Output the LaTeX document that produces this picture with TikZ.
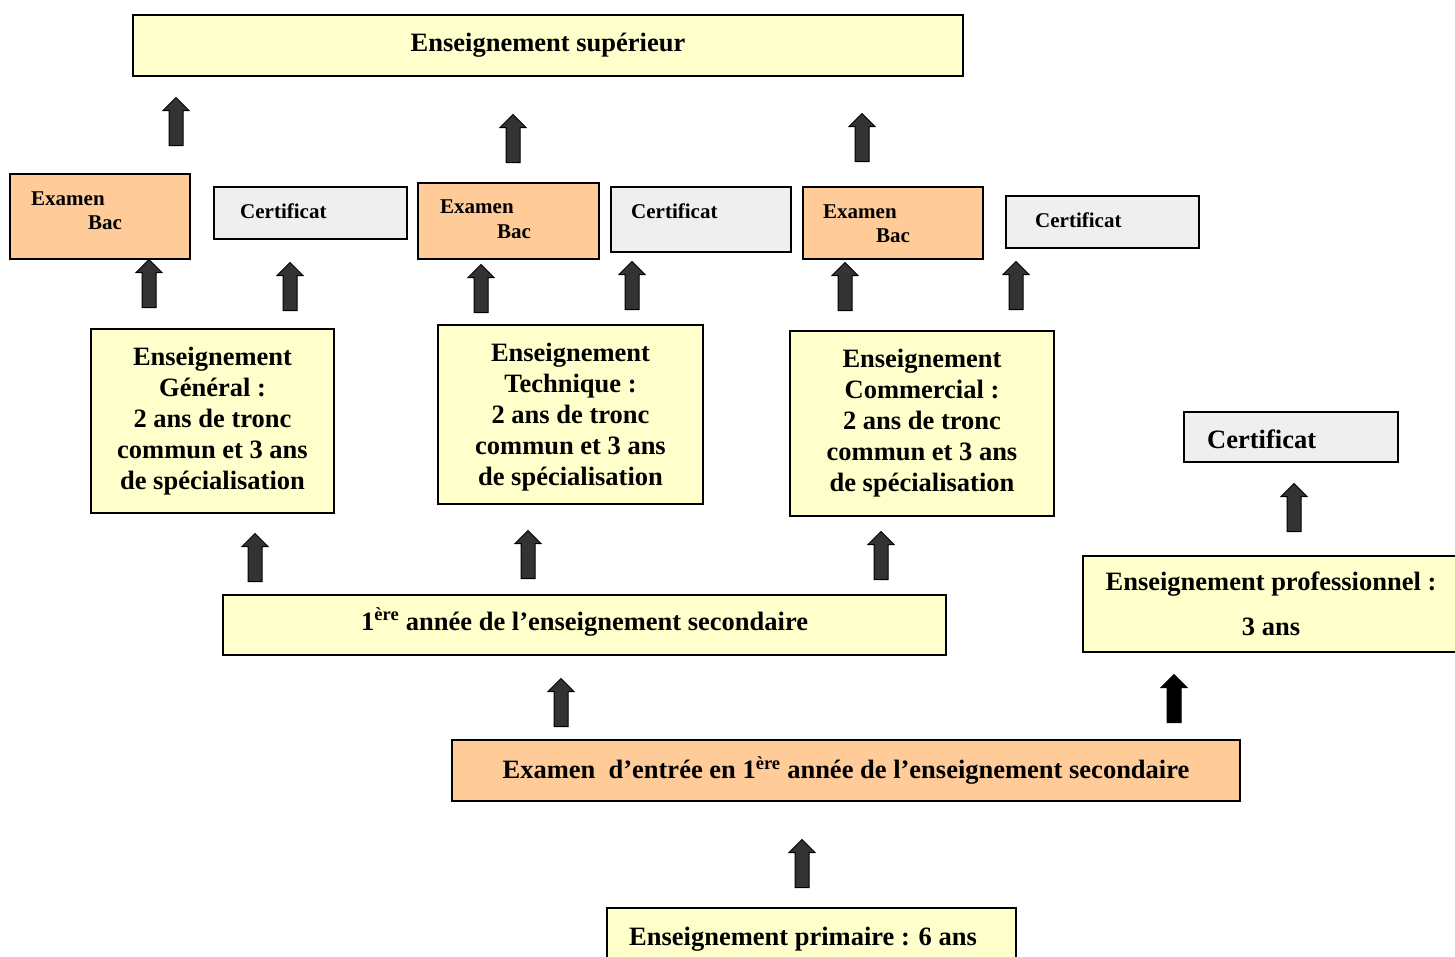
\documentclass[tikz,border=0pt]{standalone}
\usepackage{fontspec}
\setmainfont{Liberation Serif}
\usetikzlibrary{shapes.arrows}
\definecolor{ylw}{HTML}{FFFFCC}
\definecolor{org}{HTML}{FFCC99}
\definecolor{gry}{HTML}{EFEFEF}
\definecolor{arr}{HTML}{333333}
\begin{document}
\begin{tikzpicture}[x=1pt,y=-1pt,
  box/.style={draw=black, line width=1.5pt, rectangle, inner sep=0pt, align=center,
    font=\bfseries\fontsize{26.5}{31}\selectfont},
  ybox/.style={box, fill=ylw},
  obox/.style={box, fill=org},
  gbox/.style={box, fill=gry},
  btext/.style={inner sep=0pt, align=center, font=\bfseries\fontsize{26.5}{31}\selectfont},
  small/.style={inner sep=0pt, anchor=base west, font=\bfseries\fontsize{21}{24}\selectfont},
  large/.style={inner sep=0pt, anchor=base west, font=\bfseries\fontsize{26.5}{31}\selectfont},
  barrow/.style={single arrow, draw=black, fill=arr, line width=1pt, rotate=90, anchor=tail,
    minimum height=48pt, minimum width=25pt, inner xsep=0pt, inner ysep=6.5pt,
    text height=0pt, text depth=0pt, single arrow head extend=6pt},
  karrow/.style={barrow, fill=black}
]
\useasboundingbox (0,0) rectangle (1455,956);

% top
\node[ybox, minimum width=830pt, minimum height=61pt] (sup) at (548,45.5) {Enseignement supérieur};

% exam bac / certificat boxes
\node[obox, minimum width=180pt, minimum height=85pt] (bac1) at (100,216.5) {};
\node[small] (bac1a) at (31,205) {Examen};
\node[small] (bac1b) at (88,229) {Bac};
\node[gbox, minimum width=193pt, minimum height=52pt] (cer1) at (310.5,213) {};
\node[small] (cer1t) at (240,218) {Certificat};

\node[obox, minimum width=181pt, minimum height=76pt] (bac2) at (508.5,221) {};
\node[small] (bac2a) at (440,213) {Examen};
\node[small] (bac2b) at (497,238) {Bac};
\node[gbox, minimum width=180pt, minimum height=65pt] (cer2) at (701,219.5) {};
\node[small] (cer2t) at (631,218) {Certificat};

\node[obox, minimum width=180pt, minimum height=72pt] (bac3) at (893,223) {};
\node[small] (bac3a) at (823,218) {Examen};
\node[small] (bac3b) at (876,242) {Bac};
\node[gbox, minimum width=193pt, minimum height=52pt] (cer3) at (1102.5,222) {};
\node[small] (cer3t) at (1035,227) {Certificat};

% branches
\node[ybox, minimum width=243pt, minimum height=184pt] (gen) at (212.5,421)
  {Enseignement\\Général :\\2 ans de tronc\\commun et 3 ans\\de spécialisation};
\node[ybox, minimum width=265pt, minimum height=179pt] (tech) at (570.5,414.5) {};
\node[btext] (techt) at (570.5,417.5)
  {Enseignement\\Technique :\\2 ans de tronc\\commun et 3 ans\\de spécialisation};
\node[ybox, minimum width=264pt, minimum height=185pt] (comm) at (922,423.5)
  {Enseignement\\Commercial :\\2 ans de tronc\\commun et 3 ans\\de spécialisation};

% professional
\node[gbox, minimum width=214pt, minimum height=50pt] (cerp) at (1291,437) {};
\node[large] (cerpt) at (1207,448) {Certificat};
\node[ybox, minimum width=376pt, minimum height=96pt] (prof) at (1271,604)
  {Enseignement professionnel :\\[14pt]3 ans};

% secondary
\node[ybox, minimum width=723pt, minimum height=60pt] (prem) at (584.5,625) {};
\node[large] (premt) at (361,630) {1\textsuperscript{ère} année de l’enseignement secondaire};
\node[obox, minimum width=788pt, minimum height=61pt] (exam) at (846,770.5)
  {Examen\ \ d’entrée en 1\textsuperscript{ère} année de l’enseignement secondaire};

% primary
\node[ybox, minimum width=409pt, minimum height=54pt] (prim) at (811.5,935) {};
\node[large] (primt) at (629,945) {Enseignement primaire : 6 ans};

% block arrows (positioned at their tails)
\node[barrow] (a1) at (176,146) {};
\node[barrow] (a2) at (513,163) {};
\node[barrow] (a3) at (862,162) {};
\node[barrow] (b1) at (149,308) {};
\node[barrow] (c1) at (290,311) {};
\node[barrow] (b2) at (481,313) {};
\node[barrow] (c2) at (632,310) {};
\node[barrow] (b3) at (845,311) {};
\node[barrow] (c3) at (1016,310) {};
\node[barrow] (ag) at (255,582) {};
\node[barrow] (at) at (528,579) {};
\node[barrow] (am) at (881,580) {};
\node[barrow] (ae) at (561,727) {};
\node[karrow] (ap) at (1174,723) {};
\node[barrow] (ac) at (1294,532) {};
\node[barrow] (apr) at (802,888) {};
\end{tikzpicture}
\end{document}
